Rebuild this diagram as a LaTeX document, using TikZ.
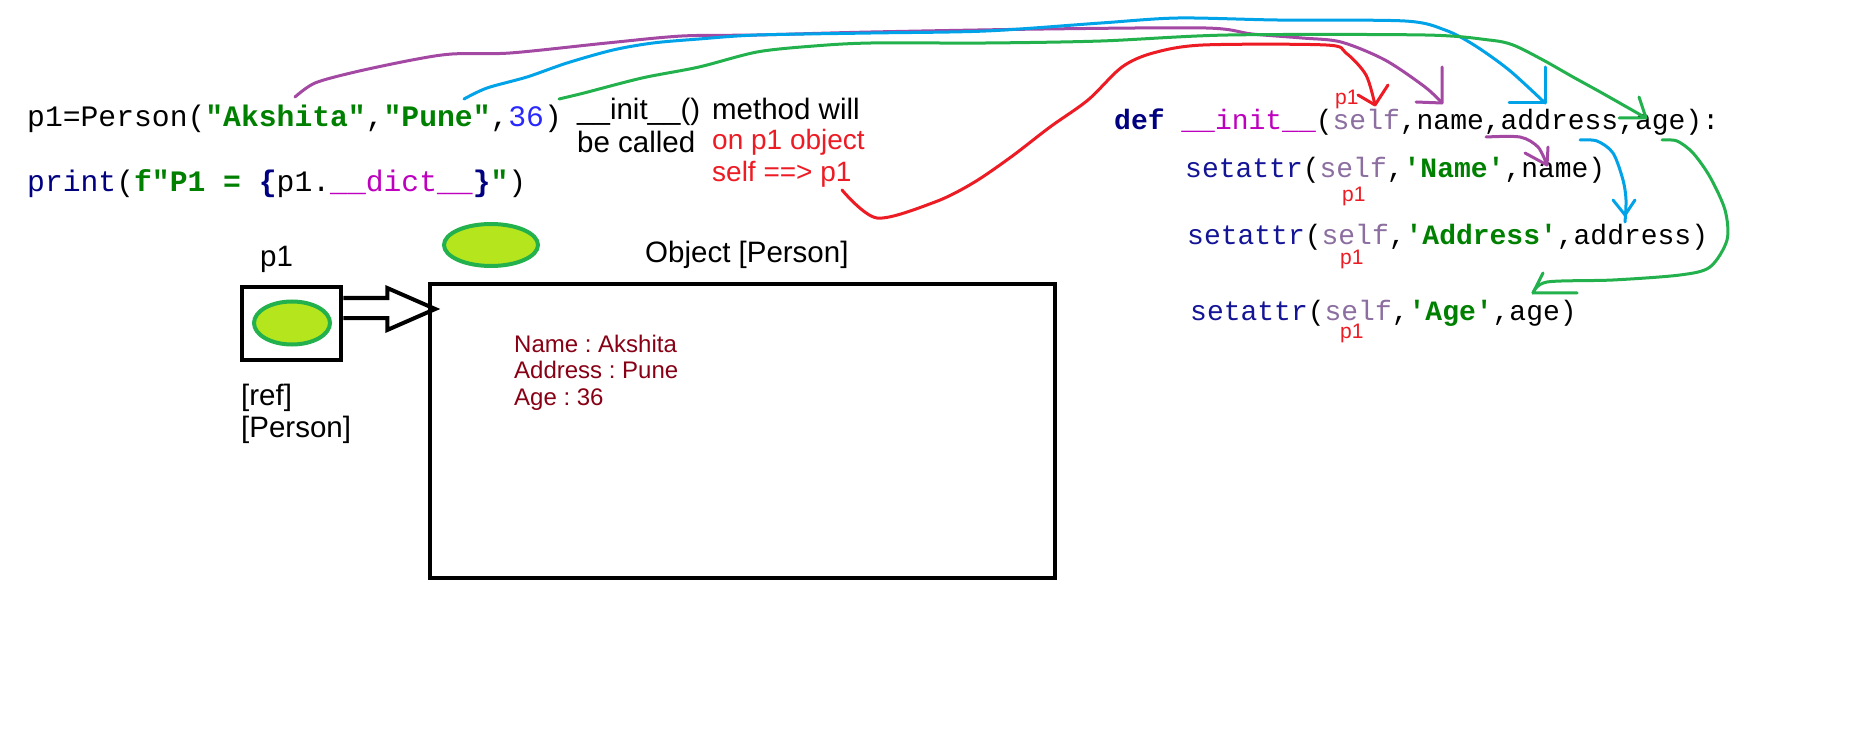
\documentclass[tikz,border=0pt]{standalone}
\usepackage{fontspec}
\usetikzlibrary{shapes.geometric}
\setmonofont{Liberation Mono}
\newfontfamily\arialf{Liberation Sans}
\definecolor{ppurple}{RGB}{163,73,164}
\definecolor{pblue}{RGB}{0,162,232}
\definecolor{pgreen}{RGB}{34,177,76}
\definecolor{pred}{RGB}{237,28,36}
\definecolor{plime}{RGB}{181,230,29}
\definecolor{pdarkred}{RGB}{136,0,21}
\definecolor{cgreen}{RGB}{0,128,0}
\definecolor{cnavy}{RGB}{0,0,128}
\definecolor{cset}{RGB}{20,20,150}
\definecolor{cmag}{RGB}{190,0,190}
\definecolor{cself}{RGB}{140,110,160}
\definecolor{cblue}{RGB}{40,40,255}
\begin{document}
\frenchspacing
\begin{tikzpicture}[x=1pt,y=-1pt,
  code/.style={anchor=base west, inner sep=0pt, font=\ttfamily\fontsize{29.7}{34}\selectfont},
  codeR/.style={anchor=base west, inner sep=0pt, font=\ttfamily\fontsize{28}{33}\selectfont},
  lbl/.style={anchor=base west, inner sep=0pt, font=\arialf\fontsize{29.5}{33}\selectfont},
  redlbl/.style={anchor=base west, inner sep=0pt, font=\arialf\fontsize{28}{32}\selectfont, text=pred},
  smallp/.style={anchor=base west, inner sep=0pt, font=\arialf\fontsize{21}{24}\selectfont, text=pred},
  fieldtxt/.style={anchor=base west, inner sep=0pt, font=\arialf\fontsize{24}{27}\selectfont, text=pdarkred},
  curve/.style={line width=3pt, line cap=round, line join=round},
  blackbox/.style={draw=black, line width=4.5pt, inner sep=0pt},
  blob/.style={ellipse, draw=pgreen, fill=plime, line width=4pt, inner sep=0pt},
  hollow/.style={draw=black, line width=4pt, line join=miter}
]
\fill[white] (0,0) rectangle (1852,743);
\useasboundingbox (0,0) rectangle (1852,743);

% left code
\node[code] (l1) at (27,127) {p1=Person(\textcolor{cgreen}{\bfseries"Akshita"},\textcolor{cgreen}{\bfseries"Pune"},\textcolor{cblue}{36})};
\node[code] (l2) at (27,192) {\textcolor{cnavy}{print}(\textcolor{cgreen}{\bfseries f"P1 = }\textcolor{cnavy}{\bfseries\{}p1.\textcolor{cmag}{\_\_dict\_\_}\textcolor{cnavy}{\bfseries\}}\textcolor{cgreen}{\bfseries"})};

% comments
\node[lbl] (c1) at (577,120) {\_\_init\_\_()\hspace{12pt}method will};
\node[lbl] (c2) at (577,153) {be called};
\node[redlbl] (c3) at (712,150) {on p1 object};
\node[redlbl] (c4) at (712,182) {self ==> p1};

% right code
\node[codeR] (def) at (1114,130) {\textcolor{cnavy}{\bfseries def} \textcolor{cmag}{\_\_init\_\_}(\textcolor{cself}{self},name,address,age):};
\node[codeR] (s1) at (1185,178) {\textcolor{cset}{setattr}(\textcolor{cself}{self},\textcolor{cgreen}{\bfseries'Name'},name)};
\node[codeR] (s2) at (1187,245) {\textcolor{cset}{setattr}(\textcolor{cself}{self},\textcolor{cgreen}{\bfseries'Address'},address)};
\node[codeR] (s3) at (1190,320) {\textcolor{cset}{setattr}(\textcolor{cself}{self},\textcolor{cgreen}{\bfseries'Age'},age)};
\node[smallp] (q0) at (1335,105) {p1};
\node[smallp] (q1) at (1342,202) {p1};
\node[smallp] (q2) at (1340,265) {p1};
\node[smallp] (q3) at (1340,338) {p1};

% reference and object
\node[lbl] (p1lbl) at (260,267) {p1};
\node[blackbox, minimum width=99pt, minimum height=73pt] (p1box) at (291.5,323.5) {};
\node[blob, minimum width=76pt, minimum height=43pt] (e1) at (292,323) {};
\node[lbl] (ref1) at (241,405) {[ref]};
\node[lbl] (ref2) at (241,437) {[Person]};

\node[blob, minimum width=94pt, minimum height=42pt] (e2) at (491,245) {};
\node[lbl] (objlbl) at (645,263) {Object [Person]};
\node[blackbox, minimum width=625pt, minimum height=294pt] (objbox) at (742.5,431) {};
\node[fieldtxt] (f1) at (514,352) {Name : Akshita};
\node[fieldtxt] (f2) at (514,378) {Address : Pune};
\node[fieldtxt] (f3) at (514,405) {Age : 36};

\draw[hollow] ([yshift=25.5pt]p1box.east) -- ++(44,0) -- ++(0,-10) -- ++(48,21)
  -- ++(-48,21) -- ++(0,-12) -- ([yshift=5.5pt]p1box.east);

% hand-drawn connectors
\coordinate (pS) at (295,97);   \coordinate (pE) at (1442,103);
\coordinate (bS) at (464,99);   \coordinate (bE) at (1545,103);
\coordinate (gS) at (559,99);   \coordinate (gE) at (1646,118);
\coordinate (rS) at (842,190);  \coordinate (rE) at (1375,105);

\draw[curve, ppurple] plot[smooth] coordinates {(pS) (315,83) (355,72) (412,60) (452,54) (510,53) (607,43) (682,36) (757,35) (871,32) (1044,29) (1206,28) (1252,34) (1302,38) (1341,42) (1385,60) (1425,87) (pE)};
\draw[curve, ppurple] (pE) -- ++(0,-36) (pE) -- ++(-26,-1);

\draw[curve, pblue] plot[smooth] coordinates {(bS) (487,88) (527,77) (567,63) (613,50) (653,43) (699,39) (757,35) (871,33) (986,31) (1101,23) (1178,18) (1277,20) (1405,21) (1445,30) (1474,45) (1509,70) (bE)};
\draw[curve, pblue] (bE) -- ++(0,-36) (bE) -- ++(-36,0);

\draw[curve, pgreen] plot[smooth] coordinates {(gS) (584,93) (642,78) (699,67) (757,52) (814,46) (871,43) (986,43) (1101,41) (1228,35) (1425,35) (1489,40) (1513,45) (1543,60) (1573,77) (1602,93) (gE)};
\draw[curve, pgreen] (gE) -- ++(-7,-21) (gE) -- ++(-27,0);

\draw[curve, pred] plot[smooth] coordinates {(rS) (877,218) (935,202) (973,183) (1011,157) (1050,127) (1088,100) (1122,67) (1153,53) (1203,45) (1326,45) (1346,53) (1366,75) (rE)};
\draw[curve, pred] (rE) -- ++(-17,-10) (rE) -- ++(13,-20);

% small connectors below the def line
\coordinate (pS2) at (1486,137); \coordinate (pE2) at (1547,165);
\draw[curve, ppurple] plot[smooth] coordinates {(pS2) (1520,137) (1538,147) (pE2)};
\draw[curve, ppurple] (pE2) -- ++(1,-18) (pE2) -- ++(-22,-12);

\coordinate (bS2) at (1580,140); \coordinate (bE2) at (1625,222);
\draw[curve, pblue] plot[smooth] coordinates {(bS2) (1597,141) (1613,153) (1623,180) (1626,200) (bE2)};
\draw[curve, pblue] (1625,215) -- ++(-12,-15) (1625,215) -- ++(10,-15);

\coordinate (gS2) at (1662,140); \coordinate (gE2) at (1533,293);
\draw[curve, pgreen] plot[smooth] coordinates {(gS2) (1677,141) (1693,153) (1710,177) (1725,210) (1727,240) (1710,267) (1680,275) (1613,280) (1547,282) (gE2)};
\draw[curve, pgreen] (gE2) -- ++(10,-20) (gE2) -- ++(44,0);
\end{tikzpicture}
\end{document}
